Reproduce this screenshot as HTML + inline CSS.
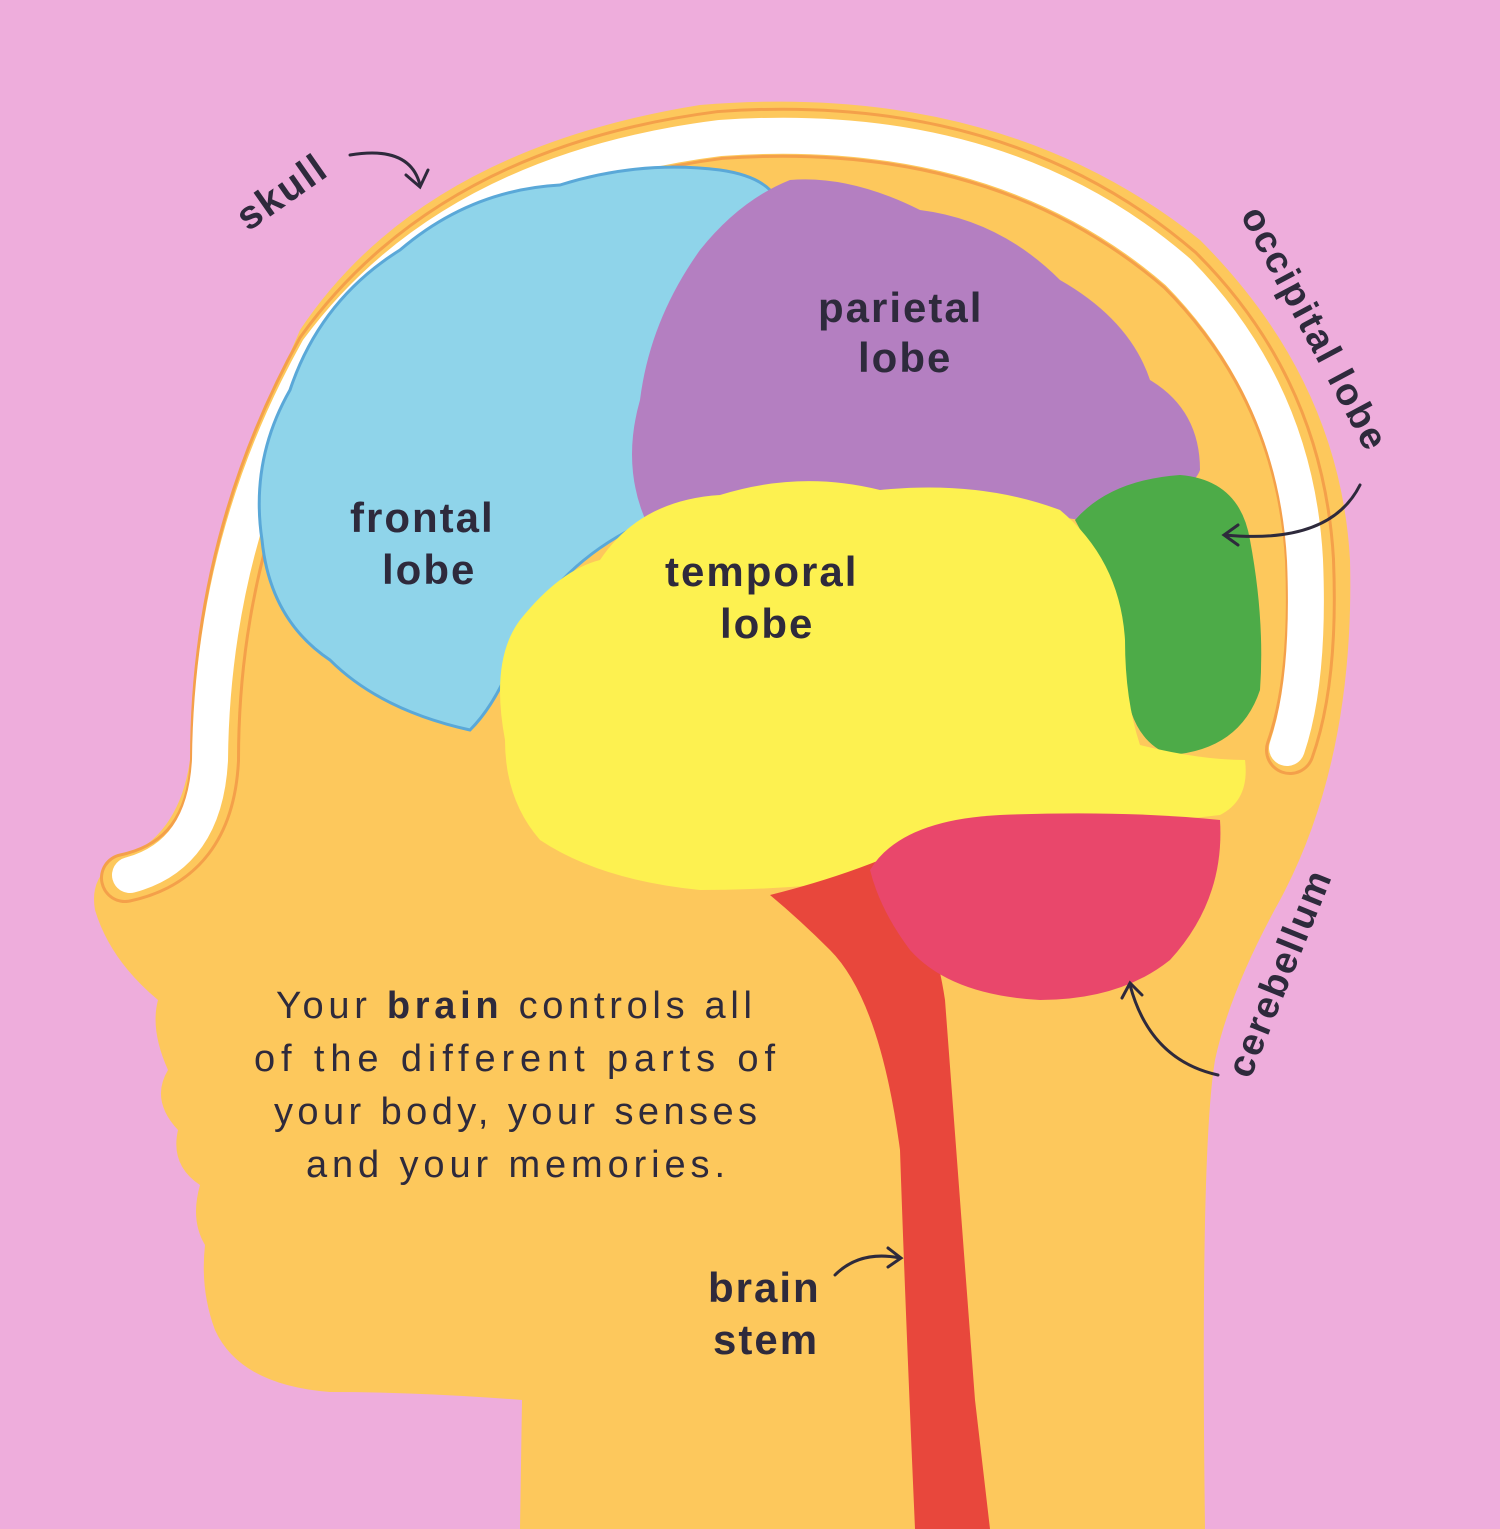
<!DOCTYPE html>
<html><head><meta charset="utf-8"><style>
html,body{margin:0;padding:0;background:#eeaddc;}
svg{display:block}
text{font-family:"Liberation Sans",sans-serif;fill:#2e2a3c;}
</style></head><body>
<svg width="1500" height="1529" viewBox="0 0 1500 1529" xmlns="http://www.w3.org/2000/svg">
<rect width="1500" height="1529" fill="#eeaddc"/>
<path d="M520,1529 L522,1400 Q420,1392 330,1392 Q240,1385 215,1330 Q200,1290 205,1245 Q190,1220 200,1185 Q170,1165 178,1130 Q150,1100 168,1070 Q150,1030 158,1000 Q110,960 95,910 Q88,870 130,855 Q180,830 190,760 Q200,560 300,330 Q420,150 700,105 Q1000,80 1200,240 Q1340,380 1350,560 Q1355,760 1280,900 Q1230,990 1215,1060 Q1200,1150 1205,1529 Z" fill="#fdc85c"/>
<path d="M125,878 Q210,860 215,760 Q215,540 320,350 Q450,170 720,135 Q1000,115 1180,270 Q1300,390 1310,560 Q1315,680 1290,750" fill="none" stroke="#f4a04a" stroke-width="50" stroke-linecap="round"/>
<path d="M125,878 Q210,860 215,760 Q215,540 320,350 Q450,170 720,135 Q1000,115 1180,270 Q1300,390 1310,560 Q1315,680 1290,750" fill="none" stroke="#fdc85c" stroke-width="44" stroke-linecap="round"/>
<path d="M130,875 Q205,855 210,760 Q212,540 318,350 Q450,172 720,138 Q1000,118 1178,272 Q1296,392 1305,560 Q1310,680 1287,748" fill="none" stroke="#fff" stroke-width="36" stroke-linecap="round"/>
<path d="M470,730 Q380,710 330,660 Q270,620 262,540 Q250,460 290,390 Q320,300 400,250 Q470,190 560,185 Q640,160 720,170 Q790,180 780,230 Q700,280 660,360 Q640,440 650,520 Q560,560 520,640 Q500,700 470,730 Z" fill="#8fd4ea" stroke="#5aa8d8" stroke-width="3"/>
<path d="M650,530 Q620,470 640,400 Q650,320 700,250 Q740,200 790,180 Q850,175 920,210 Q1000,220 1060,280 Q1130,320 1150,380 Q1200,410 1200,470 Q1190,500 1080,520 Q950,500 860,490 Q760,480 650,530 Z" fill="#b47fc1"/>
<path d="M1075,520 Q1110,480 1180,475 Q1240,480 1250,540 Q1265,620 1260,690 Q1240,750 1170,755 Q1130,740 1125,680 Q1120,600 1075,520 Z" fill="#4dab48"/>
<path d="M505,740 Q490,660 520,620 Q560,570 600,560 Q640,500 720,495 Q800,470 880,490 Q980,480 1060,510 Q1120,560 1125,640 Q1125,700 1140,745 Q1200,760 1245,760 Q1250,800 1220,815 Q1100,830 1000,820 Q900,840 870,880 Q780,890 700,890 Q600,880 540,840 Q505,800 505,740 Z" fill="#fdf150"/>
<path d="M770,895 Q830,880 880,860 Q930,900 945,1000 Q960,1200 975,1400 L990,1529 L915,1529 Q905,1300 900,1150 Q880,1000 830,950 Q800,920 770,895 Z" fill="#e8473c"/>
<path d="M870,870 Q900,820 1000,815 Q1120,810 1220,820 Q1225,900 1170,960 Q1120,1000 1040,1000 Q950,995 910,950 Q880,910 870,870 Z" fill="#e9476b"/>
<text x="818" y="322" font-size="42" font-weight="bold" letter-spacing="2">parietal</text>
<text x="858" y="372" font-size="42" font-weight="bold" letter-spacing="2">lobe</text>
<text x="350" y="532" font-size="42" font-weight="bold" letter-spacing="2">frontal</text>
<text x="382" y="584" font-size="42" font-weight="bold" letter-spacing="2">lobe</text>
<text x="665" y="586" font-size="42" font-weight="bold" letter-spacing="2">temporal</text>
<text x="720" y="638" font-size="42" font-weight="bold" letter-spacing="2">lobe</text>
<text x="708" y="1302" font-size="42" font-weight="bold" letter-spacing="2">brain</text>
<text x="713" y="1354" font-size="42" font-weight="bold" letter-spacing="2">stem</text>
<text transform="translate(248,232) rotate(-35)" font-size="40" font-weight="bold" letter-spacing="2">skull</text>
<text transform="translate(1240,215) rotate(62)" font-size="38" font-weight="bold" letter-spacing="2">occipital lobe</text>
<text transform="translate(1250,1080) rotate(-68)" font-size="38" font-weight="bold" letter-spacing="2">cerebellum</text>
<text x="276" y="1018" font-size="38" textLength="476" lengthAdjust="spacing">Your <tspan font-weight="bold">brain</tspan> controls all</text>
<text x="254" y="1071" font-size="38" textLength="521" lengthAdjust="spacing">of the different parts of</text>
<text x="274" y="1124" font-size="38" textLength="483" lengthAdjust="spacing">your body, your senses</text>
<text x="306" y="1177" font-size="38" textLength="419" lengthAdjust="spacing">and your memories.</text>
<g fill="none" stroke="#2e2a3c" stroke-width="3" stroke-linecap="round">
<path d="M350,155 Q410,145 420,185"/><path d="M406,175 L420,187 L428,170"/>
<path d="M1360,485 Q1330,545 1225,535"/><path d="M1238,525 L1224,535 L1238,545"/>
<path d="M1218,1075 Q1150,1060 1130,985"/><path d="M1122,998 L1130,983 L1142,995"/>
<path d="M835,1275 Q860,1250 900,1258"/><path d="M888,1248 L901,1258 L888,1267"/>
</g>
</svg>
</body></html>
